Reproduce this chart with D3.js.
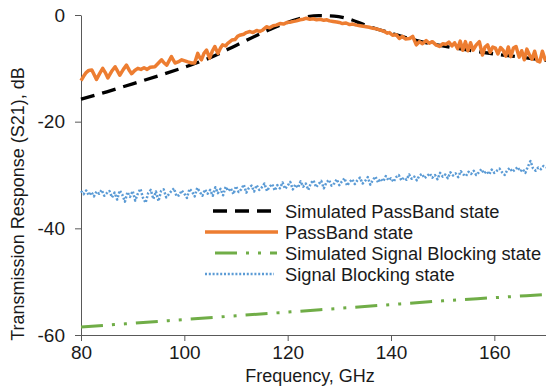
<!DOCTYPE html>
<html><head><meta charset="utf-8">
<script src="https://cdn.jsdelivr.net/npm/d3@7/dist/d3.min.js"></script>
<style>
html,body{margin:0;padding:0;background:#fff;}
svg text{font-family:"Liberation Sans",Arial,sans-serif;fill:#1a1a1a;}
</style></head>
<body><svg id="c" width="546" height="389"></svg>
<script>
const xTicks = [80,100,120,140,160];
const yTicks = [0,-20,-40,-60];
const seriesNames = ["Simulated PassBand state","PassBand state","Simulated Signal Blocking state","Signal Blocking state"];

const simPassFreq = [80,85,90,95,100,105,110,115,120,123,126,129,132,135,140,145,150,155,160,165,170];
const simPassVal  = [-15.8,-14.4,-12.9,-11.4,-9.8,-8.0,-5.7,-3.4,-1.4,-0.5,-0.1,-0.2,-0.8,-1.9,-3.4,-4.8,-5.8,-6.6,-7.3,-7.9,-8.5];

const passFreq = [80.0,80.5,81.0,81.5,82.1,82.6,83.0,83.6,84.2,84.7,85.2,85.9,86.6,87.0,87.5,88.2,88.8,89.3,89.8,90.4,91.0,91.6,92.2,92.8,93.4,94.3,95.0,95.6,96.1,96.6,97.1,97.5,98.2,98.8,99.5,100.1,100.7,101.4,102.0,102.6,103.0,103.3,103.8,104.3,104.9,105.4,105.9,106.5,107.0,107.4,108.0,108.4,109.2,109.8,110.3,110.7,111.5,112.0,112.7,113.3,114.0,114.6,115.2,115.9,116.5,117.2,117.8,118.5,119.2,119.9,120.6,121.2,121.7,122.4,123.0,123.6,124.3,125.0,125.6,126.3,127.0,127.6,128.1,128.8,129.5,130.0,130.6,131.3,132.0,132.6,133.3,134.0,134.6,135.2,135.8,136.5,137.2,137.8,138.5,139.3,139.7,140.3,141.0,141.6,142.2,142.8,143.6,144.2,144.9,145.5,146.1,146.8,147.4,148.0,148.7,149.4,150.0,150.6,151.2,151.8,152.3,152.9,153.4,153.9,154.4,154.9,155.4,155.9,156.5,157.1,157.7,158.2,158.7,159.2,159.7,160.2,160.7,161.2,161.7,162.2,162.7,163.2,163.7,164.2,164.8,165.3,165.8,166.3,166.8,167.3,167.8,168.3,168.8,169.3,169.8,170.0];
const passVal = [-12.3,-11.5,-10.8,-10.4,-10.3,-11.3,-12.1,-11.0,-10.0,-10.8,-11.8,-10.6,-9.7,-10.4,-11.3,-10.2,-9.4,-10.3,-11.0,-10.4,-10.0,-10.2,-9.9,-10.2,-9.8,-9.7,-9.0,-8.4,-9.0,-9.4,-8.5,-7.8,-9.0,-8.8,-8.4,-8.6,-8.8,-9.0,-9.0,-7.2,-8.0,-8.4,-7.2,-6.6,-8.1,-6.8,-5.9,-7.2,-6.2,-5.6,-5.8,-5.3,-4.7,-4.6,-4.0,-3.8,-3.6,-3.3,-3.1,-3.3,-2.9,-3.1,-2.8,-2.2,-2.4,-2.0,-1.9,-1.6,-1.7,-1.4,-1.3,-1.2,-1.1,-0.9,-0.8,-0.6,-0.8,-0.7,-0.9,-0.8,-1.0,-0.9,-1.1,-1.2,-1.3,-1.4,-1.6,-1.5,-1.8,-1.7,-1.9,-2.0,-2.1,-2.2,-2.3,-2.5,-2.6,-2.8,-3.0,-3.4,-3.3,-3.8,-3.7,-4.4,-4.0,-4.5,-4.4,-4.0,-5.6,-5.0,-5.4,-4.8,-5.3,-5.0,-5.6,-5.9,-5.4,-5.5,-5.1,-5.8,-5.2,-6.3,-4.9,-6.6,-5.0,-6.7,-5.2,-6.6,-5.6,-5.0,-7.5,-6.0,-5.6,-7.0,-6.0,-6.2,-7.3,-6.1,-6.6,-7.7,-6.0,-7.8,-6.2,-5.9,-7.9,-6.7,-8.4,-6.4,-7.5,-8.3,-6.8,-8.6,-8.8,-6.8,-8.3,-8.6];

const simBlockFreq = [80,90,100,110,120,130,140,150,160,170];
const simBlockVal  = [-58.5,-57.8,-57.1,-56.4,-55.7,-55.0,-54.3,-53.6,-53.0,-52.4];

const blockFreq = [80,80.5,81,81.5,82,82.5,83,83.5,84,84.5,85,85.5,86,86.5,87,87.5,88,88.5,89,89.5,90,90.5,91,91.5,92,92.5,93,93.5,94,94.5,95,95.5,96,96.5,97,97.5,98,98.5,99,99.5,100,100.5,101,101.5,102,102.5,103,103.5,104,104.5,105,105.5,106,106.5,107,107.5,108,108.5,109,109.5,110,110.5,111,111.5,112,112.5,113,113.5,114,114.5,115,115.5,116,116.5,117,117.5,118,118.5,119,119.5,120,120.5,121,121.5,122,122.5,123,123.5,124,124.5,125,125.5,126,126.5,127,127.5,128,128.5,129,129.5,130,130.5,131,131.5,132,132.5,133,133.5,134,134.5,135,135.5,136,136.5,137,137.5,138,138.5,139,139.5,140,140.5,141,141.5,142,142.5,143,143.5,144,144.5,145,145.5,146,146.5,147,147.5,148,148.5,149,149.5,150,150.5,151,151.5,152,152.5,153,153.5,154,154.5,155,155.5,156,156.5,157,157.5,158,158.5,159,159.5,160,160.5,161,161.5,162,162.5,163,163.5,164,164.5,165,165.5,166,166.5,167,167.5,168,168.5,169,169.5,170];
const blockVal = [-33.0,-33.6,-32.9,-33.8,-33.2,-34.0,-33.1,-33.5,-32.8,-33.9,
-33.4,-33.0,-34.2,-33.3,-34.6,-32.9,-33.7,-35.0,-33.2,-34.1,
-33.0,-34.8,-33.5,-32.6,-34.3,-35.2,-33.4,-32.8,-34.5,-33.1,
-34.9,-33.0,-32.7,-34.2,-33.6,-33.0,-32.5,-34.0,-33.8,-32.9,
-33.5,-34.3,-32.6,-33.1,-34.0,-32.4,-33.2,-33.9,-32.7,-33.5,
-32.8,-33.9,-32.3,-33.4,-32.6,-33.8,-32.2,-33.0,-32.5,-33.6,
-32.1,-33.2,-32.7,-31.8,-33.3,-32.4,-32.0,-33.1,-31.9,-32.8,
-32.3,-31.6,-33.0,-32.2,-31.7,-32.9,-31.9,-32.5,-31.4,-32.6,
-32.0,-31.3,-32.7,-31.8,-32.4,-31.2,-32.2,-31.6,-32.8,-31.5,
-31.0,-32.3,-31.7,-31.1,-32.5,-31.4,-30.9,-32.0,-31.6,-30.8,
-31.9,-31.2,-30.6,-32.0,-31.3,-30.8,-31.7,-31.0,-30.5,-31.6,
-31.1,-30.4,-31.8,-30.9,-30.3,-31.4,-30.7,-31.2,-30.2,-31.0,
-30.6,-31.3,-30.4,-30.0,-31.0,-30.5,-30.9,-29.9,-30.7,-30.3,
-31.0,-30.1,-29.8,-30.6,-30.2,-29.7,-30.5,-30.0,-30.8,-29.6,
-30.3,-29.9,-30.6,-29.5,-30.1,-29.7,-30.4,-29.3,-29.9,-30.2,
-29.4,-29.8,-29.2,-30.0,-29.5,-28.9,-29.7,-29.3,-29.9,-29.0,
-29.6,-29.2,-28.8,-29.5,-30.0,-29.1,-28.7,-29.4,-29.0,-28.5,
-29.3,-28.9,-29.6,-28.4,-27.4,-28.8,-29.2,-28.6,-28.9,-28.3,
-28.6];

const svg = d3.select("#c");
const x = d3.scaleLinear().domain([80,170]).range([81,546]);
const y = d3.scaleLinear().domain([-60,0]).range([335,15]);

const styles = [
  {color:"#000000", width:3.3, dash:"14,8"},
  {color:"#ED7D31", width:3.5, dash:null},
  {color:"#70AD47", width:3, dash:"22,9,3,9,3,9"},
  {color:"#5B9BD5", width:2.5, dash:"2,1.8"}
];
const data = [
  d3.zip(simPassFreq, simPassVal),
  d3.zip(passFreq, passVal),
  d3.zip(simBlockFreq, simBlockVal),
  d3.zip(blockFreq, blockVal)
];

const fmt = d => String(d);
// axes
const gx = svg.append("g").attr("transform","translate(0,335)")
  .call(d3.axisBottom(x).tickValues(xTicks).tickFormat(fmt).tickSize(6).tickSizeOuter(0).tickPadding(5));
const gy = svg.append("g").attr("transform","translate(81,0)")
  .call(d3.axisLeft(y).tickValues(yTicks).tickFormat(fmt).tickSize(6).tickSizeOuter(0).tickPadding(10));
[gx,gy].forEach(g=>{
  g.select(".domain").attr("stroke","#595959").attr("stroke-width",1);
  g.selectAll(".tick line").attr("stroke","#595959");
  g.selectAll(".tick text").attr("font-size","19px").attr("font-family","Liberation Sans, Arial, sans-serif").attr("fill","#1a1a1a");
});
gx.select(".domain").attr("d","M81,0.5H546");

// lines
const line = d3.line().x(d=>x(d[0])).y(d=>y(d[1]));
data.forEach((d,i)=>{
  svg.append("path").datum(d).attr("d", line.curve(i===0||i===2?d3.curveMonotoneX:d3.curveLinear))
    .attr("fill","none").attr("stroke",styles[i].color).attr("stroke-width",styles[i].width)
    .attr("stroke-dasharray",styles[i].dash).attr("stroke-linejoin","round");
});

// axis titles
svg.append("text").attr("x",310).attr("y",382).attr("text-anchor","middle").attr("font-size","18px").text("Frequency, GHz");
svg.append("text").attr("transform","translate(24,204) rotate(-90)").attr("text-anchor","middle").attr("font-size","18px").text("Transmission Response (S21), dB");

// legend
const legY = [211,232,253,274];
const legX = [[213,277],[205,278],[215,277],[205,274]];
seriesNames.forEach((n,i)=>{
  svg.append("line").attr("x1",legX[i][0]).attr("x2",legX[i][1]).attr("y1",legY[i]).attr("y2",legY[i])
    .attr("stroke",styles[i].color).attr("stroke-width",styles[i].width).attr("stroke-dasharray",styles[i].dash);
  svg.append("text").attr("x",285).attr("y",legY[i]+6.5).attr("font-size","18.3px").text(n);
});
</script></body></html>
